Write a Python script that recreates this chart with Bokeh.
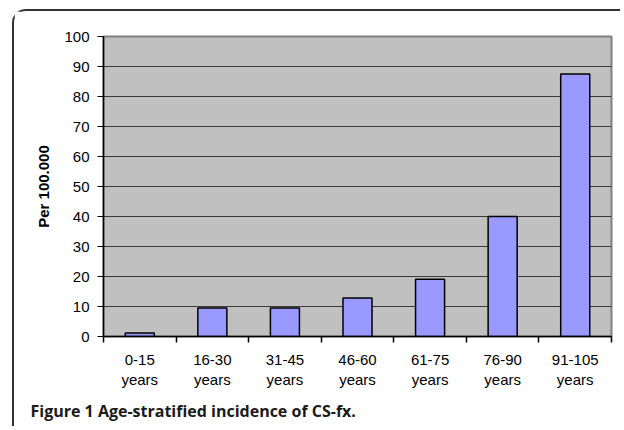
from bokeh.plotting import figure
from bokeh.models import Range1d, FixedTicker, Title
from bokeh.embed import file_html
from bokeh.resources import INLINE

groups = ["0-15", "16-30", "31-45", "46-60", "61-75", "76-90", "91-105"]
tick_labels = [g + "\nyears" for g in groups]
incidence = [1.2, 9.5, 9.5, 12.8, 19.1, 40.0, 87.5]
y_ticks = list(range(0, 101, 10))
caption = "Figure 1 Age-stratified incidence of CS-fx."

centers = [i + 0.5 for i in range(len(groups))]
bounds = list(range(len(groups) + 1))

p = figure(x_range=Range1d(0, len(groups)), y_range=Range1d(0, 100), width=608, height=417,
           output_backend="svg", toolbar_location=None,
           min_border_left=89, min_border_right=11, min_border_top=25, min_border_bottom=91)
p.styles = {"margin-left": "12px", "margin-top": "9px",
            "border-top": "2px solid #333333", "border-left": "2px solid #333333",
            "border-top-left-radius": "14px"}

p.background_fill_color = "#c0c0c0"
p.border_fill_color = "white"
p.outline_line_color = "#808080"
p.outline_line_width = 2

p.vbar(x=centers, top=incidence, width=0.4, fill_color="#9999ff", line_color="black", line_width=1.5)

p.xgrid.visible = False
p.ygrid.grid_line_color = "#3a3a3a"
p.ygrid.grid_line_width = 1.2
p.ygrid.ticker = FixedTicker(ticks=y_ticks)

ya = p.yaxis[0]
ya.ticker = FixedTicker(ticks=y_ticks)
ya.axis_line_color = "black"
ya.axis_line_width = 1.5
ya.major_tick_in = 0
ya.major_tick_out = 6
ya.minor_tick_line_color = None
ya.major_label_standoff = 8
ya.major_label_text_font = "Liberation Sans"
ya.major_label_text_font_size = "15px"
ya.major_label_text_color = "black"
ya.axis_label = "Per 100.000"
ya.axis_label_text_font = "Liberation Sans"
ya.axis_label_text_font_size = "15px"
ya.axis_label_text_font_style = "bold"
ya.axis_label_text_color = "black"
ya.axis_label_standoff = 9

xa = p.xaxis[0]
xa.ticker = FixedTicker(ticks=centers, minor_ticks=bounds)
xa.major_label_overrides = {c: t for c, t in zip(centers, tick_labels)}
xa.axis_line_color = "black"
xa.axis_line_width = 1.5
xa.major_tick_line_color = None
xa.minor_tick_in = 0
xa.minor_tick_out = 6
xa.minor_tick_line_color = "black"
xa.minor_tick_line_width = 1.5
xa.major_label_standoff = 8
xa.major_label_text_font = "Liberation Sans"
xa.major_label_text_font_size = "15px"
xa.major_label_text_color = "black"

cap = Title(text=caption, align="left", offset=-73, standoff=14,
            text_font="Open Sans", text_font_style="bold", text_font_size="16px",
            text_color="#1a1a1a")
p.add_layout(cap, "below")

open("out.html", "w").write(file_html(p, INLINE))
